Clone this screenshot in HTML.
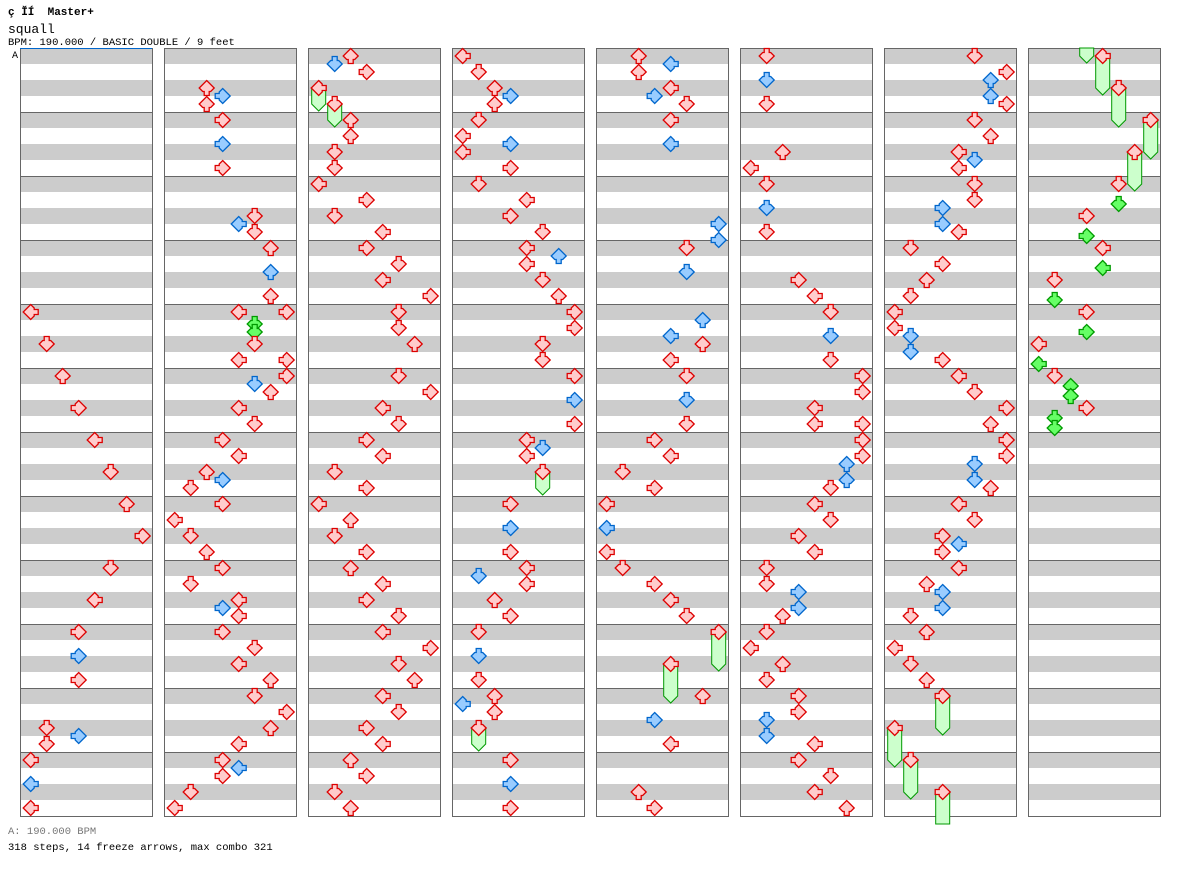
<!DOCTYPE html>
<html><head><meta charset="utf-8"><style>
html,body{margin:0;padding:0;background:#fff;width:1184px;height:876px;overflow:hidden}
svg{display:block}
text{font-family:"Liberation Mono","DejaVu Sans Mono",monospace}
</style></head><body>
<svg id="chart" width="1184" height="876" viewBox="0 0 1184 876" xmlns="http://www.w3.org/2000/svg">
<text x="8" y="15" font-size="11" font-weight="bold" fill="#000" xml:space="preserve" style="white-space:pre">ç ĬÍ  Master+</text>
<text x="8" y="33" font-size="13" fill="#000">squall</text>
<text x="8" y="45" font-size="10.5" fill="#000">BPM: 190.000 / BASIC DOUBLE / 9 feet</text>
<text x="12" y="58" font-size="10" fill="#000">A</text>
<g id="cols"></g>
<text x="8" y="834" font-size="10.5" fill="#777">A: 190.000 BPM</text>
<text x="8" y="850" font-size="10.5" fill="#000">318 steps, 14 freeze arrows, max combo 321</text>
</svg>
<script>
const col1=[[312,0],[344,1],[376,2],[408,3],[440,4],[472,5],[504,6],[536,7],[568,5],[600,4],[632,3],[656,3],[680,3],[728,1],[744,1],[736,3],[760,0],[784,0],[808,0]];
const col2=[[88,2],[96,3],[104,2],[120,3],[144,3],[168,3],[216,5],[224,4],[232,5],[248,6],[272,6],[296,6],[312,4],[312,7],[324,5],[332,5],[344,5],[360,4],[360,7],[376,7],[384,5],[392,6],[408,4],[424,5],[440,3],[456,4],[472,2],[480,3],[488,1],[504,3],[520,0],[536,1],[552,2],[568,3],[584,1],[600,4],[608,3],[616,4],[632,3],[648,5],[664,4],[680,6],[696,5],[712,7],[728,6],[744,4],[760,3],[768,4],[776,3],[792,1],[808,0]];
const col3=[[56,2],[64,1],[72,3],[88,0],[104,1],[120,2],[136,2],[152,1],[168,1],[184,0],[200,3],[216,1],[232,4],[248,3],[264,5],[280,4],[296,7],[312,5],[328,5],[344,6],[376,5],[392,7],[408,4],[424,5],[440,3],[456,4],[472,1],[488,3],[504,0],[520,2],[536,1],[552,3],[568,2],[584,4],[600,3],[616,5],[632,4],[648,7],[664,5],[680,6],[696,4],[712,5],[728,3],[744,4],[760,2],[776,3],[792,1],[808,2]];
const col4=[[56,0],[72,1],[88,2],[96,3],[104,2],[120,1],[136,0],[144,3],[152,0],[168,3],[184,1],[200,4],[216,3],[232,5],[248,4],[256,6],[264,4],[280,5],[296,6],[312,7],[328,7],[344,5],[360,5],[376,7],[400,7],[424,7],[440,4],[448,5],[456,4],[472,5],[504,3],[528,3],[552,3],[568,4],[576,1],[584,4],[600,2],[616,3],[632,1],[656,1],[680,1],[696,2],[704,0],[712,2],[728,1],[760,3],[784,3],[808,3]];
const col5=[[56,2],[64,4],[72,2],[88,4],[96,3],[104,5],[120,4],[144,4],[224,7],[240,7],[248,5],[272,5],[320,6],[336,4],[344,6],[360,4],[376,5],[400,5],[424,5],[440,3],[456,4],[472,1],[488,3],[504,0],[528,0],[552,0],[568,1],[584,3],[600,4],[616,5],[632,7],[664,4],[696,6],[720,3],[744,4],[792,2],[808,3]];
const col6=[[56,1],[80,1],[104,1],[152,2],[168,0],[184,1],[208,1],[232,1],[280,3],[296,4],[312,5],[336,5],[360,5],[376,7],[392,7],[408,4],[424,4],[424,7],[440,7],[456,7],[464,6],[480,6],[488,5],[504,4],[520,5],[536,3],[552,4],[568,1],[584,1],[592,3],[608,3],[616,2],[632,1],[648,0],[664,2],[680,1],[696,3],[712,3],[720,1],[736,1],[744,4],[760,3],[776,5],[792,4],[808,6]];
const col7=[[56,5],[72,7],[80,6],[96,6],[104,7],[120,5],[136,6],[152,4],[160,5],[168,4],[184,5],[200,5],[208,3],[224,3],[232,4],[248,1],[264,3],[280,2],[296,1],[312,0],[328,0],[336,1],[352,1],[360,3],[376,4],[392,5],[408,7],[424,6],[440,7],[456,7],[464,5],[480,5],[488,6],[504,4],[520,5],[536,3],[544,4],[552,3],[568,4],[584,2],[592,3],[608,3],[616,1],[632,2],[648,0],[664,1],[680,2],[696,3],[728,0],[760,1],[792,3]];
const col8=[[56,4],[88,5],[120,7],[152,6],[184,5],[204,5],[216,3],[236,3],[248,4],[268,4],[280,1],[300,1],[312,3],[332,3],[344,0],[364,0],[376,1],[386,2],[396,2],[408,3],[418,1],[428,1]];
const columns=[col1,col2,col3,col4,col5,col6,col7,col8];
// freezes: [column index, lane, start y, end y, hasTip]
const freezes=[[2,0,88,104,1],[2,1,104,120,1],[3,5,472,488,1],[3,1,728,744,1],[4,7,632,664,1],[4,4,664,696,1],[6,3,696,728,1],[6,0,728,760,1],[6,1,760,792,1],[6,3,792,824,0],[7,3,48,56,1],[7,4,56,88,1],[7,5,88,120,1],[7,7,120,152,1],[7,6,152,184,1]];

const NS="http://www.w3.org/2000/svg";
const root=document.getElementById('cols');
const colX=i=>20+144*i;
const laneX=(c,l)=>colX(c)+10.7+16*l;
const TOP=48,BOT=816,MEAS=64;
const ROT=[90,0,180,-90];
function mk(tag,attrs,parent){const e=document.createElementNS(NS,tag);for(const k in attrs)e.setAttribute(k,attrs[k]);(parent||root).appendChild(e);return e;}
function colorFor(y){const d=y-56;if(d%16===0)return['#ffcccc','#dd0000'];if(d%8===0)return['#99ccff','#0066cc'];return['#66ff66','#009900'];}

for(let c=0;c<8;c++){
  const g=mk('g',{});
  
  
  for(let y=TOP;y<BOT;y+=32){
    const r=mk('rect',{x:colX(c),y:y,width:132,height:16,fill:'#cccccc'},g);
    
    
  }
  for(let y=TOP+MEAS;y<BOT;y+=MEAS){
    const l=mk('line',{x1:colX(c),x2:colX(c)+132,y1:y+0.5,y2:y+0.5,stroke:'#666',"stroke-width":1},g);
    
    
  }
  const b=mk('rect',{x:colX(c)+0.5,y:TOP+0.5,width:132,height:BOT-TOP,fill:'none',stroke:'#666',"stroke-width":1},g);
  
  
}
const bl=mk('line',{x1:20,x2:152,y1:48.5,y2:48.5,stroke:'#0066cc',"stroke-width":1});



for(const f of freezes){
  const x=laneX(f[0],f[1]),s=f[2],e=f[3];
  const pts=f[4]?`${x-7},${s} ${x+7},${s} ${x+7},${e} ${x},${e+7} ${x-7},${e}`:`${x-7},${s} ${x+7},${s} ${x+7},${e} ${x-7},${e}`;
  const p=mk('polygon',{points:pts,fill:'#ccffcc',stroke:'#009900',"stroke-width":1});
  
  
}
const SHAPE="-2.5,-7.5 2.5,-7.5 2.5,-3.5 4,-3.5 7.5,0 0,7.5 -7.5,0 -4,-3.5 -2.5,-3.5";
columns.forEach((notes,c)=>{
  for(const n of notes){
    const [fill,stroke]=colorFor(n[0]);
    const p=mk('polygon',{points:SHAPE,fill:fill,stroke:stroke,"stroke-width":1.3,transform:`translate(${laneX(c,n[1])},${n[0]}) rotate(${ROT[n[1]%4]})`});
    
    
  }
});
</script>
</body></html>
